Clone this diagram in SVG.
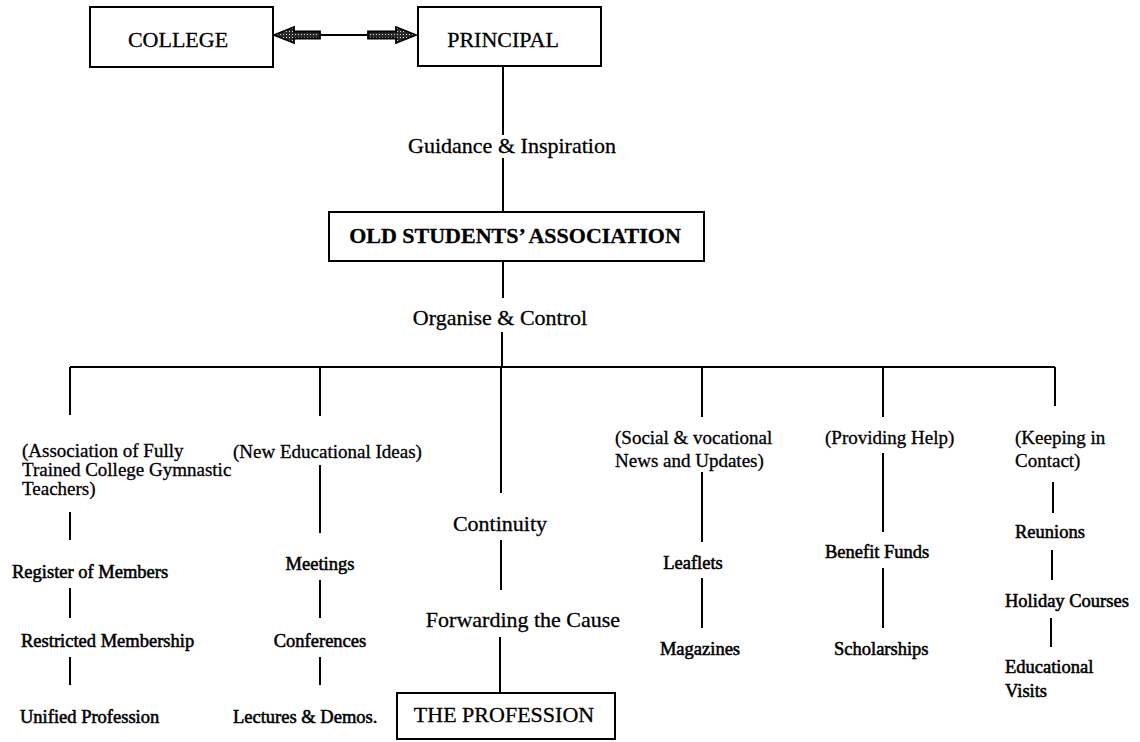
<svg xmlns="http://www.w3.org/2000/svg" width="1140" height="742" viewBox="0 0 1140 742">
<style>
text{font-family:"Liberation Serif","Times New Roman",serif;fill:#000;stroke:#000;stroke-width:0.3}
.box{fill:#fff;stroke:#000;stroke-width:2}
.big{font-size:22px}
.bold{font-size:22px;font-weight:bold}
.mid{font-size:22px}
.sm{font-size:19px}
.itm{font-size:18.5px;stroke-width:0.55}
.c{text-anchor:middle}
.ln{stroke:#000;stroke-width:2;fill:none}
.arr{fill:url(#dots);stroke:#000;stroke-width:1.8;stroke-linejoin:miter}
</style>
<defs>
<pattern id="dots" width="3" height="3" patternUnits="userSpaceOnUse">
<rect width="3" height="3" fill="#2a2a2a"/>
<rect x="1" y="1" width="1" height="1" fill="#d8d8d8"/>
</pattern>
</defs>
<rect width="1140" height="742" fill="#fff" stroke="none"/>

<g id="connectors">
<path class="ln" d="M320 35H368"/>
<polygon class="arr" points="274,35 294,27 294,31.5 320,31.5 320,38.5 294,38.5 294,43"/>
<polygon class="arr" points="416,35 396,27 396,31.5 368,31.5 368,38.5 396,38.5 396,43"/>
<path class="ln" d="M503 66V135M503 158V212M503 261V298M502 332V367M70 367H1055"/>
<path class="ln" d="M70 367V415M70 512V540M70 588V618M70 657V685"/>
<path class="ln" d="M320 367V416M320 465V533M320 580V618M320 657V685"/>
<path class="ln" d="M501 367V493M501 540V590M500 637V693"/>
<path class="ln" d="M702 367V417M702 472V542M702 578V628"/>
<path class="ln" d="M883 367V417M883 453V532M883 568V628"/>
<path class="ln" d="M1055 367V406M1053 482V513M1052 550V580M1051 618V647"/>
</g>

<g id="college">
<rect class="box" x="90" y="7" width="183" height="60"/>
<text class="big c" x="178" y="47">COLLEGE</text>
</g>
<g id="principal">
<rect class="box" x="418" y="7" width="183" height="59"/>
<text class="big c" x="503" y="47">PRINCIPAL</text>
</g>
<g id="guidance">
<text class="mid c" x="512" y="153" textLength="208">Guidance &amp; Inspiration</text>
</g>
<g id="osa">
<rect class="box" x="329" y="212" width="375" height="49"/>
<text class="bold c" x="515" y="243">OLD STUDENTS’ ASSOCIATION</text>
</g>
<g id="organise">
<text class="mid c" x="500" y="325">Organise &amp; Control</text>
</g>

<g id="col1">
<text class="sm" x="22" y="457">(Association of Fully</text>
<text class="sm" x="22" y="476">Trained College Gymnastic</text>
<text class="sm" x="22" y="495">Teachers)</text>
<text class="itm" x="12" y="578">Register of Members</text>
<text class="itm" x="21" y="647">Restricted Membership</text>
<text class="itm" x="20" y="723">Unified Profession</text>
</g>
<g id="col2">
<text class="sm" x="233" y="458">(New Educational Ideas)</text>
<text class="itm c" x="320" y="570">Meetings</text>
<text class="itm c" x="320" y="647">Conferences</text>
<text class="itm" x="233" y="723">Lectures &amp; Demos.</text>
</g>
<g id="col3">
<text class="mid c" x="500" y="531">Continuity</text>
<text class="mid c" x="523" y="627">Forwarding the Cause</text>
</g>
<g id="profession">
<rect class="box" x="397" y="693" width="218" height="46"/>
<text class="big c" x="504" y="722">THE PROFESSION</text>
</g>
<g id="col4">
<text class="sm" x="615" y="444">(Social &amp; vocational</text>
<text class="sm" x="615" y="467">News and Updates)</text>
<text class="itm c" x="693" y="569">Leaflets</text>
<text class="itm c" x="700" y="655">Magazines</text>
</g>
<g id="col5">
<text class="sm" x="825" y="444">(Providing Help)</text>
<text class="itm" x="825" y="558">Benefit Funds</text>
<text class="itm" x="834" y="655">Scholarships</text>
</g>
<g id="col6">
<text class="sm" x="1015" y="444">(Keeping in</text>
<text class="sm" x="1015" y="467">Contact)</text>
<text class="itm" x="1015" y="538">Reunions</text>
<text class="itm" x="1005" y="607">Holiday Courses</text>
<text class="itm" x="1005" y="673">Educational</text>
<text class="itm" x="1005" y="697">Visits</text>
</g>
</svg>
